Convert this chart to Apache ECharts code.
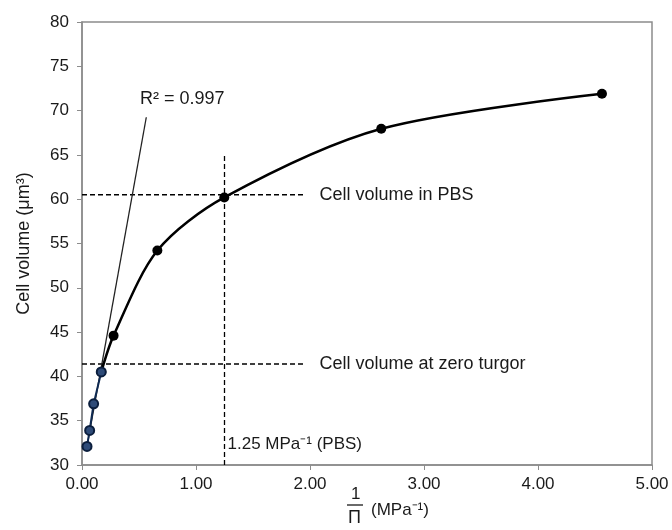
<!DOCTYPE html>
<html>
<head>
<meta charset="utf-8">
<script src="https://cdn.jsdelivr.net/npm/echarts@6/dist/echarts.min.js"></script>
<style>html,body{margin:0;padding:0;background:#fff}#c{width:672px;height:530px}</style>
</head>
<body>
<div id="c"></div>
<script>
// Data
const curveX = [0.169, 0.277, 0.661, 1.248, 2.625, 4.561];
const curveY = [40.5, 44.6, 54.2, 60.2, 67.95, 71.9];
const linearX = [0.044, 0.067, 0.102, 0.169];
const linearY = [32.1, 33.9, 36.9, 40.5];
const trendX = [0.044, 0.564];
const trendY = [32.1, 69.25];
const pbsLineX = [0, 1.96];
const pbsLineY = [60.5, 60.5];
const zeroTurgorX = [0, 1.96];
const zeroTurgorY = [41.4, 41.4];
const vertX = [1.25, 1.25];
const vertY = [30, 65.1];
const vertLabelPos = [1.25, 32.3];
const xTicks = ['0.00', '1.00', '2.00', '3.00', '4.00', '5.00'];
const yTicks = [30, 35, 40, 45, 50, 55, 60, 65, 70, 75, 80];
const r2Text = 'R² = 0.997';

const zip = (a, b) => a.map((v, i) => [v, b[i]]);
const font = 'Liberation Sans, Arial, sans-serif';
const dash = { color: '#000', width: 1.3, type: [5, 3] };
const txt = '#1a1a1a';

const chart = echarts.init(document.getElementById('c'), null, { renderer: 'canvas' });
chart.setOption({
  animation: false,
  textStyle: { fontFamily: font },
  grid: { left: 82, right: 20, top: 22, bottom: 65, show: true, borderColor: '#8c8c8c', borderWidth: 1.5 },
  xAxis: {
    type: 'value', min: 0, max: 5, interval: 1,
    axisLine: { show: true, lineStyle: { color: '#8c8c8c', width: 1.5 } },
    axisTick: { show: true, length: 5, lineStyle: { color: '#8c8c8c' } },
    splitLine: { show: false },
    axisLabel: { fontSize: 17, color: txt, margin: 11, formatter: v => xTicks[Math.round(v)] }
  },
  yAxis: {
    type: 'value', min: yTicks[0], max: yTicks[yTicks.length - 1], interval: 5,
    name: 'Cell volume (μm³)', nameLocation: 'middle', nameGap: 49,
    nameTextStyle: { fontSize: 18, color: txt, fontFamily: font },
    axisLine: { show: true, lineStyle: { color: '#8c8c8c', width: 1.5 } },
    axisTick: { show: true, length: 5, lineStyle: { color: '#8c8c8c' } },
    splitLine: { show: false },
    axisLabel: { fontSize: 17, color: txt, margin: 13 }
  },
  series: [
    {
      type: 'line', data: zip(pbsLineX, pbsLineY), symbol: 'none', lineStyle: dash, z: 1,
      endLabel: { show: true, formatter: 'Cell volume in PBS', fontSize: 18, color: txt, distance: 14, fontFamily: font }
    },
    {
      type: 'line', data: zip(zeroTurgorX, zeroTurgorY), symbol: 'none', lineStyle: dash, z: 1,
      endLabel: { show: true, formatter: 'Cell volume at zero turgor', fontSize: 18, color: txt, distance: 14, fontFamily: font }
    },
    {
      type: 'line', data: zip(vertX, vertY), symbol: 'none', lineStyle: dash, z: 1
    },
    {
      type: 'scatter', data: [vertLabelPos], symbolSize: 0, z: 5,
      itemStyle: { opacity: 1 },
      label: { show: true, formatter: '1.25 MPa⁻¹ (PBS)', position: 'right', distance: 3, fontSize: 17, color: txt, fontFamily: font }
    },
    {
      type: 'line', data: zip(trendX, trendY), symbol: 'none', z: 2,
      lineStyle: { color: '#222', width: 1.3 },
      endLabel: { show: true, formatter: r2Text, fontSize: 18, color: txt, fontFamily: font, align: 'center', offset: [36, -18], distance: 0 }
    },
    {
      type: 'line', data: zip(curveX, curveY), smooth: 0.3, symbol: 'circle', symbolSize: 10, z: 3,
      lineStyle: { color: '#000', width: 2.5 },
      itemStyle: { color: '#000' }
    },
    {
      type: 'line', data: zip(linearX, linearY), symbol: 'circle', symbolSize: 9, z: 4,
      lineStyle: { color: '#0f2a52', width: 2 },
      itemStyle: { color: '#2e4b78', borderColor: '#0b1e3d', borderWidth: 2 }
    }
  ],
  graphic: [
    { type: 'text', left: 351, top: 486, style: { text: '1', fontSize: 17, fill: txt, fontFamily: font } },
    { type: 'line', shape: { x1: 347, y1: 505, x2: 363, y2: 505 }, style: { stroke: txt, lineWidth: 1.3 } },
    { type: 'text', left: 348, top: 509, style: { text: 'Π', fontSize: 18, fill: txt, fontFamily: font } },
    { type: 'text', left: 371, top: 502, style: { text: '(MPa⁻¹)', fontSize: 17, fill: txt, fontFamily: font } }
  ]
});
</script>
</body>
</html>
